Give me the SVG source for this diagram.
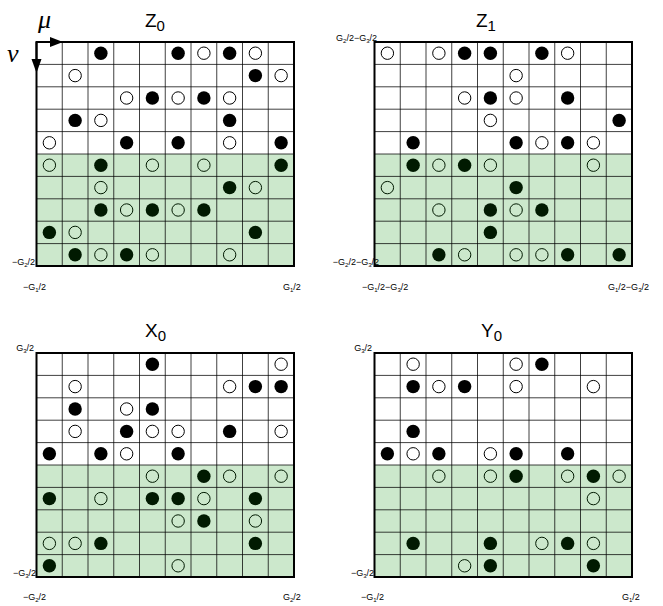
<svg xmlns="http://www.w3.org/2000/svg" xmlns:xlink="http://www.w3.org/1999/xlink" width="663" height="606" viewBox="0 0 663 606">
<style>
.inner{fill:none;stroke:#000;stroke-opacity:.75;stroke-width:1}
.border{fill:none;stroke:#000;stroke-width:2}
.fb{fill:#000}
.ob{fill:#fff;stroke:#000;stroke-width:1}
.fg{fill:#011a01}
.og{fill:none;stroke:#011a01;stroke-width:1}
.lbl{font-family:"Liberation Sans",Arial,sans-serif;font-size:9px;fill:#000}
.ttl{font-family:"Liberation Sans",Arial,sans-serif;font-size:19px;fill:#000}
.greek{font-family:"Liberation Serif","Times New Roman",serif;font-style:italic;font-size:26px;fill:#000}
</style>
<defs>
<g id="grid">
<rect width="257.5" height="224" fill="#fff"/>
<rect y="112" width="257.5" height="112" fill="#cce8cc"/>
<path class="inner" d="M25.75 0V224M51.5 0V224M77.25 0V224M103 0V224M128.75 0V224M154.5 0V224M180.25 0V224M206 0V224M231.75 0V224M0 22.4H257.5M0 44.8H257.5M0 67.2H257.5M0 89.6H257.5M0 112H257.5M0 134.4H257.5M0 156.8H257.5M0 179.2H257.5M0 201.6H257.5"/>
<rect class="border" width="257.5" height="224"/>
</g>
</defs>

<g id="Z0">
<text class="ttl" x="145" y="27">Z<tspan font-size="15" dy="4">0</tspan></text>
<g transform="translate(36.5,42)">
<use xlink:href="#grid" href="#grid"/>
<circle class="fb" r="6.7" cx="64.38" cy="11.2"/><circle class="fb" r="6.7" cx="141.63" cy="11.2"/><circle class="ob" r="6.2" cx="167.38" cy="11.2"/><circle class="fb" r="6.7" cx="193.13" cy="11.2"/><circle class="ob" r="6.2" cx="218.88" cy="11.2"/>
<circle class="ob" r="6.2" cx="38.63" cy="33.6"/><circle class="fb" r="6.7" cx="218.88" cy="33.6"/><circle class="ob" r="6.2" cx="244.63" cy="33.6"/>
<circle class="ob" r="6.2" cx="90.13" cy="56"/><circle class="fb" r="6.7" cx="115.88" cy="56"/><circle class="ob" r="6.2" cx="141.63" cy="56"/><circle class="fb" r="6.7" cx="167.38" cy="56"/><circle class="ob" r="6.2" cx="193.13" cy="56"/>
<circle class="fb" r="6.7" cx="38.63" cy="78.4"/><circle class="ob" r="6.2" cx="64.38" cy="78.4"/><circle class="fb" r="6.7" cx="193.13" cy="78.4"/>
<circle class="ob" r="6.2" cx="12.88" cy="100.8"/><circle class="fb" r="6.7" cx="90.13" cy="100.8"/><circle class="fb" r="6.7" cx="141.63" cy="100.8"/><circle class="ob" r="6.2" cx="193.13" cy="100.8"/><circle class="fb" r="6.7" cx="244.63" cy="100.8"/>
<circle class="og" r="6.2" cx="12.88" cy="123.2"/><circle class="fg" r="6.7" cx="64.38" cy="123.2"/><circle class="og" r="6.2" cx="115.88" cy="123.2"/><circle class="og" r="6.2" cx="167.38" cy="123.2"/><circle class="fg" r="6.7" cx="244.63" cy="123.2"/>
<circle class="og" r="6.2" cx="64.38" cy="145.6"/><circle class="fg" r="6.7" cx="193.13" cy="145.6"/><circle class="og" r="6.2" cx="218.88" cy="145.6"/>
<circle class="fg" r="6.7" cx="64.38" cy="168"/><circle class="og" r="6.2" cx="90.13" cy="168"/><circle class="fg" r="6.7" cx="115.88" cy="168"/><circle class="og" r="6.2" cx="141.63" cy="168"/><circle class="fg" r="6.7" cx="167.38" cy="168"/>
<circle class="fg" r="6.7" cx="12.88" cy="190.4"/><circle class="og" r="6.2" cx="38.63" cy="190.4"/><circle class="fg" r="6.7" cx="218.88" cy="190.4"/>
<circle class="fg" r="6.7" cx="38.63" cy="212.8"/><circle class="og" r="6.2" cx="64.38" cy="212.8"/><circle class="fg" r="6.7" cx="90.13" cy="212.8"/><circle class="og" r="6.2" cx="115.88" cy="212.8"/><circle class="og" r="6.2" cx="193.13" cy="212.8"/>
</g>
<text class="lbl" x="35" y="265" text-anchor="end">−G<tspan font-size="6" dy="2">2</tspan><tspan dy="-2">/2</tspan></text>
<text class="lbl" x="23" y="290">−G<tspan font-size="6" dy="2">1</tspan><tspan dy="-2">/2</tspan></text>
<text class="lbl" x="283" y="290">G<tspan font-size="6" dy="2">1</tspan><tspan dy="-2">/2</tspan></text>
</g>

<g id="Z1">
<text class="ttl" x="476" y="27">Z<tspan font-size="15" dy="4">1</tspan></text>
<g transform="translate(374.5,42)">
<use xlink:href="#grid" href="#grid"/>
<circle class="ob" r="6.2" cx="12.88" cy="11.2"/><circle class="ob" r="6.2" cx="64.38" cy="11.2"/><circle class="fb" r="6.7" cx="90.13" cy="11.2"/><circle class="fb" r="6.7" cx="115.88" cy="11.2"/><circle class="fb" r="6.7" cx="167.38" cy="11.2"/><circle class="ob" r="6.2" cx="193.13" cy="11.2"/>
<circle class="ob" r="6.2" cx="141.63" cy="33.6"/>
<circle class="ob" r="6.2" cx="90.13" cy="56"/><circle class="fb" r="6.7" cx="115.88" cy="56"/><circle class="ob" r="6.2" cx="141.63" cy="56"/><circle class="fb" r="6.7" cx="193.13" cy="56"/>
<circle class="ob" r="6.2" cx="115.88" cy="78.4"/><circle class="fb" r="6.7" cx="244.63" cy="78.4"/>
<circle class="fb" r="6.7" cx="38.63" cy="100.8"/><circle class="fb" r="6.7" cx="141.63" cy="100.8"/><circle class="ob" r="6.2" cx="167.38" cy="100.8"/><circle class="fb" r="6.7" cx="193.13" cy="100.8"/><circle class="ob" r="6.2" cx="218.88" cy="100.8"/>
<circle class="fg" r="6.7" cx="38.63" cy="123.2"/><circle class="og" r="6.2" cx="64.38" cy="123.2"/><circle class="fg" r="6.7" cx="90.13" cy="123.2"/><circle class="og" r="6.2" cx="115.88" cy="123.2"/><circle class="og" r="6.2" cx="218.88" cy="123.2"/>
<circle class="og" r="6.2" cx="12.88" cy="145.6"/><circle class="fg" r="6.7" cx="141.63" cy="145.6"/>
<circle class="og" r="6.2" cx="64.38" cy="168"/><circle class="fg" r="6.7" cx="115.88" cy="168"/><circle class="og" r="6.2" cx="141.63" cy="168"/><circle class="fg" r="6.7" cx="167.38" cy="168"/>
<circle class="fg" r="6.7" cx="115.88" cy="190.4"/>
<circle class="fg" r="6.7" cx="64.38" cy="212.8"/><circle class="og" r="6.2" cx="90.13" cy="212.8"/><circle class="og" r="6.2" cx="141.63" cy="212.8"/><circle class="og" r="6.2" cx="167.38" cy="212.8"/><circle class="fg" r="6.7" cx="193.13" cy="212.8"/><circle class="fg" r="6.7" cx="244.63" cy="212.8"/>
</g>
<text class="lbl" x="377" y="41" text-anchor="end">G<tspan font-size="6" dy="2">2</tspan><tspan dy="-2">/2−G</tspan><tspan font-size="6" dy="2">3</tspan><tspan dy="-2">/2</tspan></text>
<text class="lbl" x="379" y="265" text-anchor="end">−G<tspan font-size="6" dy="2">2</tspan><tspan dy="-2">/2−G</tspan><tspan font-size="6" dy="2">3</tspan><tspan dy="-2">/2</tspan></text>
<text class="lbl" x="362" y="290">−G<tspan font-size="6" dy="2">1</tspan><tspan dy="-2">/2−G</tspan><tspan font-size="6" dy="2">3</tspan><tspan dy="-2">/2</tspan></text>
<text class="lbl" x="608" y="290">G<tspan font-size="6" dy="2">1</tspan><tspan dy="-2">/2−G</tspan><tspan font-size="6" dy="2">3</tspan><tspan dy="-2">/2</tspan></text>
</g>

<g id="X0">
<text class="ttl" x="145" y="337">X<tspan font-size="15" dy="4">0</tspan></text>
<g transform="translate(36.5,353)">
<use xlink:href="#grid" href="#grid"/>
<circle class="fb" r="6.7" cx="115.88" cy="11.2"/><circle class="ob" r="6.2" cx="244.63" cy="11.2"/>
<circle class="ob" r="6.2" cx="38.63" cy="33.6"/><circle class="ob" r="6.2" cx="193.13" cy="33.6"/><circle class="fb" r="6.7" cx="218.88" cy="33.6"/><circle class="fb" r="6.7" cx="244.63" cy="33.6"/>
<circle class="fb" r="6.7" cx="38.63" cy="56"/><circle class="ob" r="6.2" cx="90.13" cy="56"/><circle class="fb" r="6.7" cx="115.88" cy="56"/>
<circle class="ob" r="6.2" cx="38.63" cy="78.4"/><circle class="fb" r="6.7" cx="90.13" cy="78.4"/><circle class="ob" r="6.2" cx="115.88" cy="78.4"/><circle class="ob" r="6.2" cx="141.63" cy="78.4"/><circle class="fb" r="6.7" cx="193.13" cy="78.4"/><circle class="ob" r="6.2" cx="244.63" cy="78.4"/>
<circle class="fb" r="6.7" cx="12.88" cy="100.8"/><circle class="fb" r="6.7" cx="64.38" cy="100.8"/><circle class="ob" r="6.2" cx="90.13" cy="100.8"/><circle class="fb" r="6.7" cx="141.63" cy="100.8"/>
<circle class="og" r="6.2" cx="115.88" cy="123.2"/><circle class="fg" r="6.7" cx="167.38" cy="123.2"/><circle class="og" r="6.2" cx="193.13" cy="123.2"/><circle class="og" r="6.2" cx="244.63" cy="123.2"/>
<circle class="fg" r="6.7" cx="12.88" cy="145.6"/><circle class="og" r="6.2" cx="64.38" cy="145.6"/><circle class="fg" r="6.7" cx="115.88" cy="145.6"/><circle class="fg" r="6.7" cx="141.63" cy="145.6"/><circle class="og" r="6.2" cx="167.38" cy="145.6"/><circle class="fg" r="6.7" cx="218.88" cy="145.6"/>
<circle class="og" r="6.2" cx="141.63" cy="168"/><circle class="fg" r="6.7" cx="167.38" cy="168"/><circle class="og" r="6.2" cx="218.88" cy="168"/>
<circle class="og" r="6.2" cx="12.88" cy="190.4"/><circle class="og" r="6.2" cx="38.63" cy="190.4"/><circle class="fg" r="6.7" cx="64.38" cy="190.4"/><circle class="fg" r="6.7" cx="218.88" cy="190.4"/>
<circle class="fg" r="6.7" cx="12.88" cy="212.8"/><circle class="og" r="6.2" cx="141.63" cy="212.8"/>
</g>
<text class="lbl" x="34" y="351" text-anchor="end">G<tspan font-size="6" dy="2">3</tspan><tspan dy="-2">/2</tspan></text>
<text class="lbl" x="36" y="576" text-anchor="end">−G<tspan font-size="6" dy="2">3</tspan><tspan dy="-2">/2</tspan></text>
<text class="lbl" x="23" y="600">−G<tspan font-size="6" dy="2">2</tspan><tspan dy="-2">/2</tspan></text>
<text class="lbl" x="283" y="600">G<tspan font-size="6" dy="2">2</tspan><tspan dy="-2">/2</tspan></text>
</g>

<g id="Y0">
<text class="ttl" x="481" y="337">Y<tspan font-size="15" dy="4">0</tspan></text>
<g transform="translate(374.5,353)">
<use xlink:href="#grid" href="#grid"/>
<circle class="ob" r="6.2" cx="38.63" cy="11.2"/><circle class="ob" r="6.2" cx="141.63" cy="11.2"/><circle class="fb" r="6.7" cx="167.38" cy="11.2"/>
<circle class="fb" r="6.7" cx="38.63" cy="33.6"/><circle class="ob" r="6.2" cx="64.38" cy="33.6"/><circle class="fb" r="6.7" cx="90.13" cy="33.6"/><circle class="ob" r="6.2" cx="141.63" cy="33.6"/><circle class="ob" r="6.2" cx="218.88" cy="33.6"/>
<circle class="fb" r="6.7" cx="38.63" cy="78.4"/>
<circle class="fb" r="6.7" cx="12.88" cy="100.8"/><circle class="ob" r="6.2" cx="38.63" cy="100.8"/><circle class="fb" r="6.7" cx="64.38" cy="100.8"/><circle class="ob" r="6.2" cx="115.88" cy="100.8"/><circle class="fb" r="6.7" cx="141.63" cy="100.8"/><circle class="fb" r="6.7" cx="193.13" cy="100.8"/>
<circle class="og" r="6.2" cx="64.38" cy="123.2"/><circle class="og" r="6.2" cx="115.88" cy="123.2"/><circle class="fg" r="6.7" cx="141.63" cy="123.2"/><circle class="og" r="6.2" cx="193.13" cy="123.2"/><circle class="fg" r="6.7" cx="218.88" cy="123.2"/><circle class="og" r="6.2" cx="244.63" cy="123.2"/>
<circle class="og" r="6.2" cx="218.88" cy="145.6"/>
<circle class="fg" r="6.7" cx="38.63" cy="190.4"/><circle class="fg" r="6.7" cx="115.88" cy="190.4"/><circle class="og" r="6.2" cx="167.38" cy="190.4"/><circle class="fg" r="6.7" cx="193.13" cy="190.4"/><circle class="og" r="6.2" cx="218.88" cy="190.4"/>
<circle class="og" r="6.2" cx="90.13" cy="212.8"/><circle class="fg" r="6.7" cx="115.88" cy="212.8"/><circle class="fg" r="6.7" cx="218.88" cy="212.8"/>
</g>
<text class="lbl" x="372" y="351" text-anchor="end">G<tspan font-size="6" dy="2">3</tspan><tspan dy="-2">/2</tspan></text>
<text class="lbl" x="374" y="576" text-anchor="end">−G<tspan font-size="6" dy="2">3</tspan><tspan dy="-2">/2</tspan></text>
<text class="lbl" x="361" y="600">−G<tspan font-size="6" dy="2">1</tspan><tspan dy="-2">/2</tspan></text>
<text class="lbl" x="622" y="600">G<tspan font-size="6" dy="2">1</tspan><tspan dy="-2">/2</tspan></text>
</g>

<g id="connectors">
<path d="M36.5 42H52M36.5 42V61" fill="none" stroke="#000" stroke-width="2"/>
<polygon points="50,37 63,42 50,47" fill="#000"/>
<polygon points="31.5,59 41.5,59 36.5,73" fill="#000"/>
<text class="greek" x="38" y="28">μ</text>
<text class="greek" x="7" y="62">ν</text>
</g>
</svg>
